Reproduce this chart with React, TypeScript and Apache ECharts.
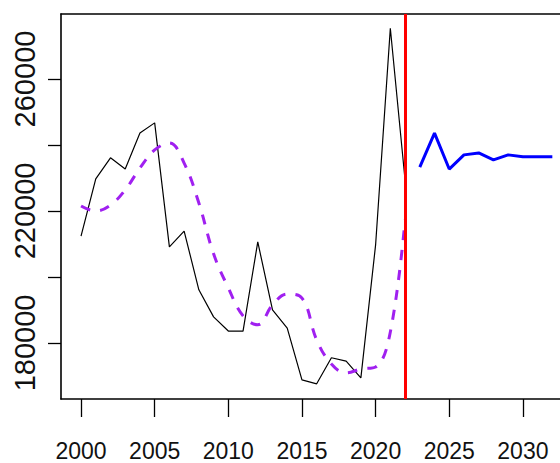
import React, { useEffect, useRef } from "react";
import * as echarts from "echarts";

const obsYears = [2000, 2001, 2002, 2003, 2004, 2005, 2006, 2007, 2008, 2009, 2010, 2011, 2012, 2013, 2014, 2015, 2016, 2017, 2018, 2019, 2020, 2021, 2022];
const observed = [212400, 229700, 236100, 232700, 243600, 246700, 209100, 213900, 196100, 187900, 183600, 183600, 210600, 190000, 184500, 168800, 167600, 175500, 174500, 169400, 209700, 275400, 229400];
const fitted = [221500, 220000, 221800, 226400, 233000, 238500, 240600, 234500, 222400, 207000, 196700, 188200, 185500, 191500, 194800, 193600, 180900, 173600, 170900, 172100, 172700, 183300, 217300];
const fcYears = [2023, 2024, 2025, 2026, 2027, 2028, 2029, 2030, 2031, 2032];
const forecast = [233300, 243600, 232700, 237000, 237600, 235500, 237000, 236400, 236400, 236400];
const splitYear = 2022;
const xTicks = [2000, 2005, 2010, 2015, 2020, 2025, 2030];
const yTicks = [180000, 200000, 220000, 240000, 260000];
const yLabels = [180000, 220000, 260000];

export default function App() {
  const ref = useRef<HTMLDivElement>(null);
  useEffect(() => {
    if (!ref.current) return;
    const chart = echarts.init(ref.current, null, { renderer: "svg" });
    const font = "'Liberation Sans', Arial, sans-serif";
    const axisLine = { show: true, lineStyle: { color: "#000", width: 1.6 } };
    chart.setOption({
      animation: false,
      backgroundColor: "#fff",
      grid: { left: 61, right: 0, top: 14, bottom: 64 },
      xAxis: [
        {
          type: "value",
          min: 1998.64,
          max: 2032.52,
          position: "bottom",
          axisLine,
          splitLine: { show: false },
          axisTick: { show: true, customValues: xTicks, length: 18, lineStyle: { color: "#000", width: 1.3 } },
          axisLabel: {
            customValues: xTicks,
            margin: 40,
            fontSize: 23,
            fontFamily: font,
            color: "#111",
            formatter: (v: number) => String(v),
          },
        },
        {
          type: "value",
          min: 1998.64,
          max: 2032.52,
          position: "top",
          axisLine,
          splitLine: { show: false },
          axisTick: { show: false },
          axisLabel: { show: false },
        },
      ],
      yAxis: {
        type: "value",
        min: 163000,
        max: 279700,
        axisLine,
        splitLine: { show: false },
        axisTick: { show: true, customValues: yTicks, length: 13, lineStyle: { color: "#000", width: 1.3 } },
        axisLabel: {
          customValues: yLabels,
          rotate: 90,
          margin: 22,
          fontSize: 29,
          fontFamily: font,
          color: "#111",
          formatter: (v: number) => String(v),
        },
      },
      series: [
        {
          type: "line",
          data: obsYears.map((y, i) => [y, observed[i]]),
          showSymbol: false,
          lineStyle: { color: "#000", width: 1.2 },
          markLine: {
            silent: true,
            symbol: "none",
            label: { show: false },
            lineStyle: { color: "#FF0000", width: 3, type: "solid" },
            data: [{ xAxis: splitYear }],
          },
        },
        {
          type: "line",
          data: obsYears.map((y, i) => [y, fitted[i]]),
          showSymbol: false,
          smooth: 0.4,
          lineStyle: { color: "#A020F0", width: 3, type: [10, 10] },
        },
        {
          type: "line",
          data: fcYears.map((y, i) => [y, forecast[i]]),
          showSymbol: false,
          lineStyle: { color: "#0000FF", width: 3 },
        },
      ],
    });
    return () => chart.dispose();
  }, []);
  return <div ref={ref} style={{ position: "absolute", left: 0, top: 0, width: 560, height: 463 }} />;
}
